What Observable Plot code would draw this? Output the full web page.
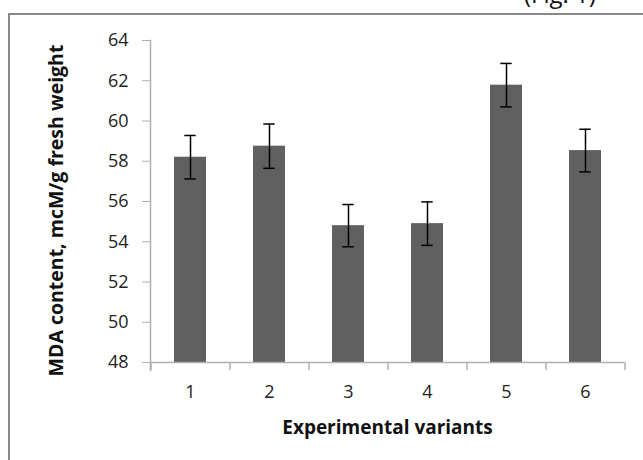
<!DOCTYPE html>
<html>
<head>
<meta charset="utf-8">
<script src="https://cdn.jsdelivr.net/npm/d3@7"></script>
<script src="https://cdn.jsdelivr.net/npm/@observablehq/plot@0.6"></script>
<style>
  html, body { margin: 0; padding: 0; background: #fff; }
  #wrap { position: relative; width: 643px; height: 460px; overflow: hidden; font-family: "Open Sans", sans-serif; }
  #frame { position: absolute; left: 8px; top: 13px; width: 700px; height: 500px; border-left: 2px solid #888; border-top: 2px solid #888; }
  #fig { position: absolute; left: 524px; top: -18px; font-size: 24px; line-height: 24px; color: #111; white-space: nowrap; }
  #chart { position: absolute; left: 0; top: 0; }
</style>
</head>
<body>
<div id="wrap">
  <div id="frame"></div>
  <div id="fig">(Fig. 1)</div>
  <div id="chart"></div>
</div>
<script>
const variants = ["1", "2", "3", "4", "5", "6"];
const mdaMean = [58.2, 58.75, 54.8, 54.9, 61.78, 58.53];
const mdaError = [1.08, 1.1, 1.05, 1.08, 1.08, 1.06];
const yTicks = [48, 50, 52, 54, 56, 58, 60, 62, 64];
const yTitle = "MDA content, mcM/g fresh weight";
const xTitle = "Experimental variants";

const data = variants.map((v, i) => ({variant: v, mean: mdaMean[i], lo: mdaMean[i] - mdaError[i], hi: mdaMean[i] + mdaError[i]}));

const W = 643, H = 460, ML = 150, MR = 19, MT = 40, MB = 98;
const step = (W - ML - MR) / variants.length;
const axisColor = "#b0b0b0";
const capInset = step * 0.4 / 2 - 5.5;

const chart = Plot.plot({
  width: W,
  height: H,
  marginLeft: ML,
  marginRight: MR,
  marginTop: MT,
  marginBottom: MB,
  style: {fontFamily: "Open Sans, sans-serif", background: "transparent", overflow: "visible"},
  x: {domain: variants, paddingInner: 0.6, paddingOuter: 0.3, axis: null},
  y: {domain: [48, 64], axis: null},
  marks: [
    Plot.barY(data, {x: "variant", y1: 48, y2: "mean", fill: "#606060"}),
    Plot.ruleX(data, {x: "variant", y1: "lo", y2: "hi", stroke: "#000", strokeWidth: 1.5}),
    Plot.tickY(data, {x: "variant", y: "lo", stroke: "#000", strokeWidth: 1.5, insetLeft: capInset, insetRight: capInset}),
    Plot.tickY(data, {x: "variant", y: "hi", stroke: "#000", strokeWidth: 1.5, insetLeft: capInset, insetRight: capInset}),
    Plot.ruleY([48], {stroke: axisColor, strokeWidth: 1.5}),
    Plot.frame({anchor: "left", stroke: axisColor, strokeWidth: 1.5, insetBottom: -8}),
    Plot.ruleX(variants, {x: d => d, y1: 48, y2: 48, insetBottom: -8, dx: -step / 2, stroke: axisColor, strokeWidth: 1.5}),
    Plot.ruleX(variants.slice(-1), {x: d => d, y1: 48, y2: 48, insetBottom: -8, dx: step / 2, stroke: axisColor, strokeWidth: 1.5}),
    Plot.axisY({ticks: yTicks, tickSize: 8, tickPadding: 14, stroke: axisColor, fill: "#222", fontSize: 18, label: null}),
    Plot.axisX({tickSize: 0, tickPadding: 23, fill: "#222", fontSize: 18, label: null}),
    Plot.text([yTitle], {frameAnchor: "left", textAnchor: "middle", rotate: -90, dx: -94, dy: 9, fontSize: 19.5, fontWeight: "bold", fill: "#111"}),
    Plot.text([xTitle], {frameAnchor: "bottom", textAnchor: "middle", dy: 71, fontSize: 19, fontWeight: "bold", fill: "#111"})
  ]
});
document.getElementById("chart").appendChild(chart);
</script>
</body>
</html>
